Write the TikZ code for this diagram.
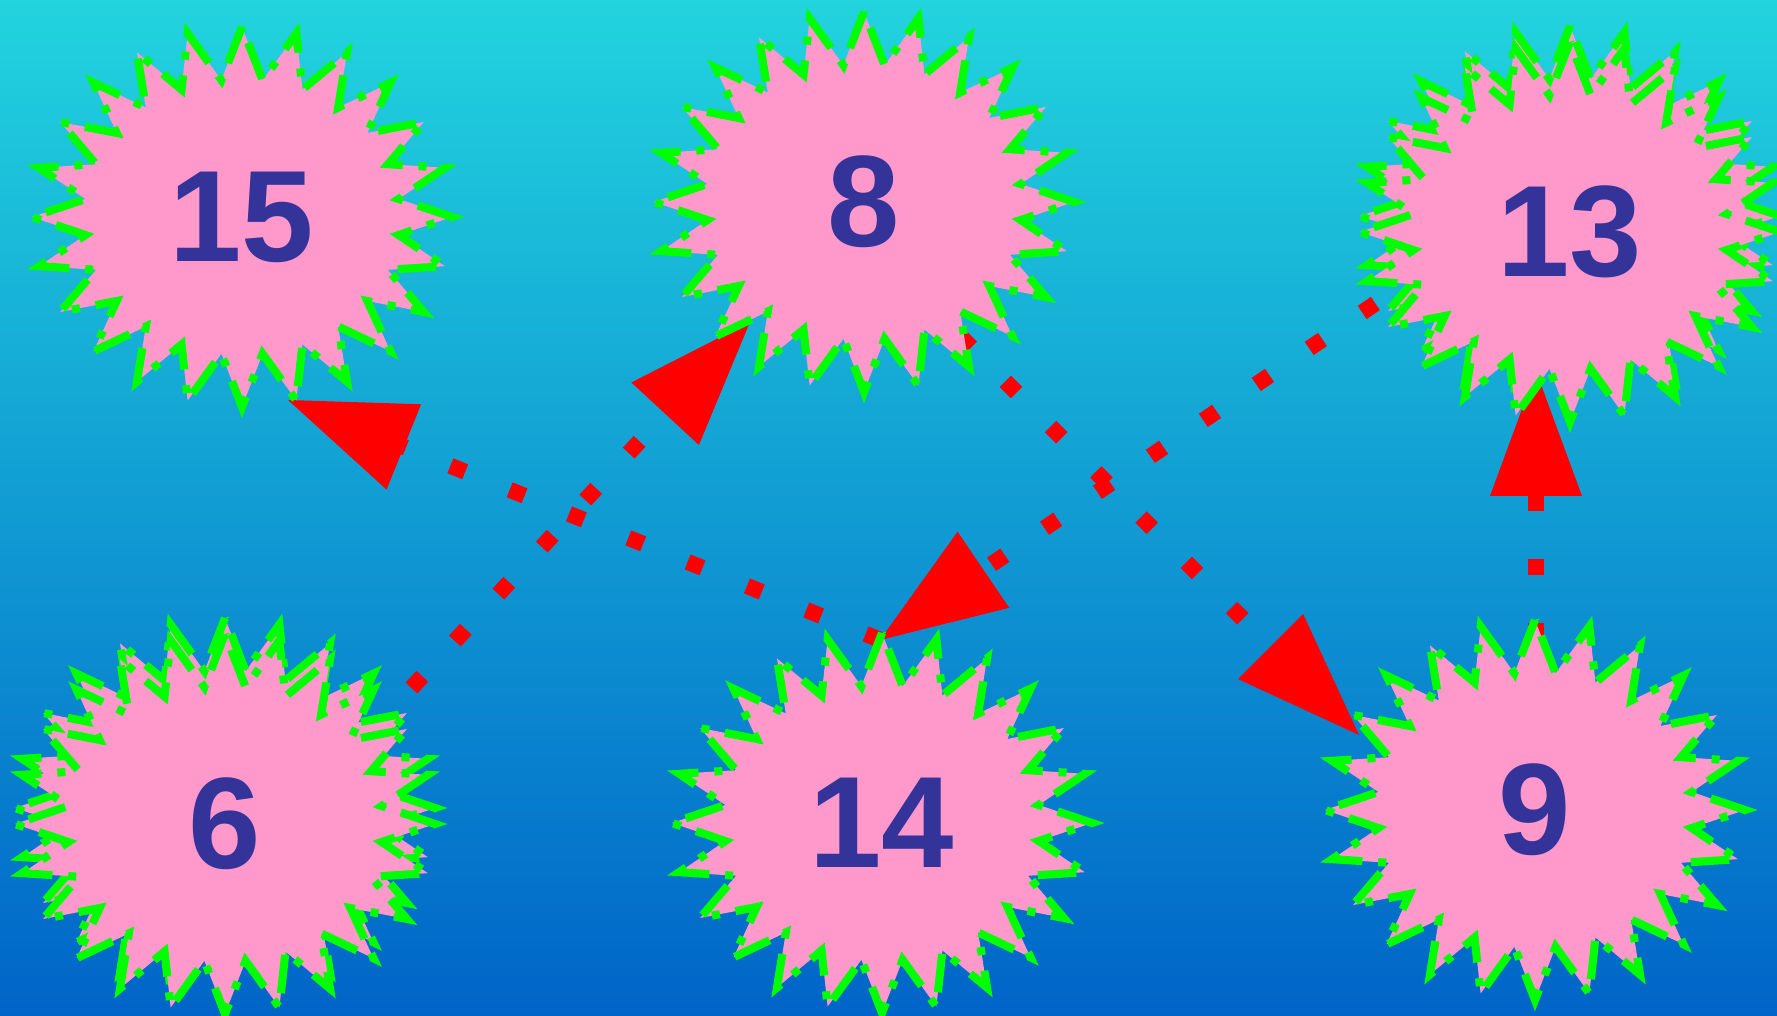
\documentclass[tikz,border=0pt]{standalone}
\usepackage{fontspec}
\setmainfont{Liberation Sans}
\usetikzlibrary{shapes.symbols,arrows.meta,calc}
\definecolor{bgtop}{RGB}{34,212,222}
\definecolor{bgbot}{RGB}{0,100,200}
\definecolor{burstfill}{RGB}{255,153,204}
\definecolor{burstline}{RGB}{0,255,0}
\definecolor{numcol}{RGB}{51,51,153}
\definecolor{edgecol}{RGB}{255,0,0}
\pgfdeclarelayer{bglayer}
\pgfdeclarelayer{edgelayer}
\pgfsetlayers{bglayer,edgelayer,main}
\begin{document}
\begin{tikzpicture}[
  burst/.style={starburst, starburst points=24, starburst point height=0.52cm,
    random starburst=0,
    minimum width=4.2cm, minimum height=3.8cm, inner sep=0pt,
    fill=burstfill, draw=burstline, line width=2.3pt,
    dash pattern=on 11pt off 4.5pt on 2.3pt off 4.5pt,
    font=\fontsize{37}{40}\selectfont\bfseries, text=numcol},
  link/.style={draw=edgecol, line width=0.16cm, dash pattern=on 0.16cm off 0.48cm,
    -{Triangle[length=1.25cm,width=0.92cm,line width=0pt]}}
]
\begin{pgfonlayer}{bglayer}
\shade[top color=bgtop, bottom color=bgbot] (0,0) rectangle (17.77,10.16);
\end{pgfonlayer}
\useasboundingbox (0,0) rectangle (17.77,10.16);

% shadow copies
\node[burst] (c13) at (15.70,8.00) {};
\node[burst] (c6) at (2.25,2.08) {};

% main nodes
\node[burst] (n15) at (2.42,7.99) {15};
\node[burst] (n8) at (8.64,8.14) {8};
\node[burst] (n13) at (15.70,7.84) {13};
\node[burst] (n6) at (2.25,1.92) {6};
\node[burst] (n14) at (8.82,1.93) {14};
\node[burst] (n9) at (15.35,2.06) {9};

\begin{pgfonlayer}{edgelayer}
\draw[link] ([shift={(-0.016,1.83)}]n14.center) -- ([shift={(0.46,-1.83)}]n15.center);
\draw[link] ([shift={(1.43,0.89)}]n6.center) -- ([shift={(-1.14,-1.20)}]n8.center);
\draw[link] ([shift={(0.96,-1.34)}]n8.center) -- ([shift={(-1.76,0.75)}]n9.center);
\draw[link] ([shift={(-1.946,-0.715)}]n13.center) -- ([shift={(-0.02,1.83)}]n14.center);
\draw[link] ([shift={(0.01,1.71)}]n9.center) -- ([shift={(-0.34,-1.39)}]n13.center);
\end{pgfonlayer}
\end{tikzpicture}
\end{document}
